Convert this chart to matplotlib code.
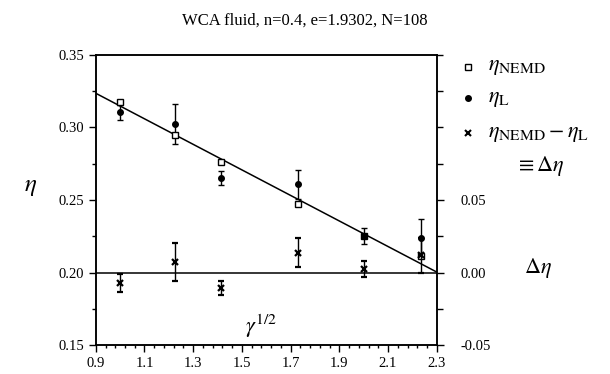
import numpy as np
import matplotlib
matplotlib.use("Agg")
import matplotlib.pyplot as plt
from matplotlib.ticker import FixedLocator, FormatStrFormatter

plt.rcParams['font.family'] = ['Liberation Serif', 'DejaVu Serif']
plt.rcParams['mathtext.fontset'] = 'stix'
plt.rcParams['axes.unicode_minus'] = False

# sqrt(gamma) values
gamma_half = [1.0, 1.2247, 1.4142, 1.7321, 2.0, 2.2361]
eta_nemd = [0.3178, 0.2948, 0.2764, 0.2472, 0.2255, 0.2114]
eta_l = [0.3105, 0.3024, 0.2650, 0.2608, 0.2252, 0.2240]
eta_l_err = [0.0050, 0.0138, 0.0050, 0.0100, 0.0057, 0.0127]
delta_eta = [-0.0072, 0.0073, -0.0106, 0.0135, 0.0023, 0.0120]
delta_err = [0.0060, 0.0133, 0.0050, 0.0100, 0.0055, 0.0120]
fit_x = [0.9, 2.3]
fit_y = [0.3236, 0.2003]

fig = plt.figure(figsize=(6.10, 3.74), dpi=100)
ax = fig.add_axes([0.157, 0.0775, 0.559, 0.7755])

ax.plot(fit_x, fit_y, color='black', lw=1.1)
ax.errorbar(gamma_half, eta_l, yerr=eta_l_err, fmt='o', color='black',
            ms=4, capsize=2.5, elinewidth=1, capthick=1)
ax.plot(gamma_half, eta_nemd, 's', mfc='white', mec='black', ms=5, mew=1)

ax.set_xlim(0.9, 2.3)
ax.set_ylim(0.15, 0.35)
ax.xaxis.set_major_locator(FixedLocator(np.arange(0.9, 2.31, 0.2)))
ax.xaxis.set_minor_locator(FixedLocator(np.arange(0.9, 2.31, 0.04)))
ax.xaxis.set_major_formatter(FormatStrFormatter('%.1f'))
ax.yaxis.set_major_locator(FixedLocator(np.arange(0.15, 0.351, 0.05)))
ax.yaxis.set_minor_locator(FixedLocator(np.arange(0.15, 0.351, 0.025)))
ax.yaxis.set_major_formatter(FormatStrFormatter('%.2f'))
ax.tick_params(which='both', direction='out', labelsize=10.5, width=1)
ax.tick_params(which='major', length=5)
ax.tick_params(which='minor', length=3)
ax.tick_params(axis='x', which='minor', length=2)

ax2 = ax.twinx()
ax2.axhline(0.0, color='black', lw=1.1)
ax2.errorbar(gamma_half, delta_eta, yerr=delta_err, fmt='x', color='black',
             ms=4, mew=1.6, capsize=2.5, elinewidth=1, capthick=1)
ax2.set_ylim(-0.05, 0.15)
ax2.yaxis.set_major_locator(FixedLocator([-0.05, 0.0, 0.05]))
ax2.yaxis.set_minor_locator(FixedLocator(np.arange(-0.05, 0.151, 0.025)))
ax2.yaxis.set_major_formatter(FormatStrFormatter('%.2f'))
ax2.tick_params(which='both', direction='out', labelsize=10.5, width=1)
ax2.tick_params(which='major', length=5, pad=12)
ax2.tick_params(which='minor', length=4)

for a in (ax, ax2):
    for s in a.spines.values():
        s.set_linewidth(1.1)

fig.text(0.5, 0.945, 'WCA fluid, n=0.4, e=1.9302, N=108', ha='center',
         va='center', fontsize=12)
fig.text(0.05, 0.5, r'$\eta$', ha='center', va='center', fontsize=18)
fig.text(0.882, 0.283, r'$\Delta\eta$', ha='center', va='center', fontsize=16)
ax.text(1.58, 0.163, r'$\gamma^{1/2}$', ha='center', va='center', fontsize=16)

# legend drawn by hand to match the layout
fig.text(0.800, 0.82, r'$\eta_{\mathrm{NEMD}}$', va='center', fontsize=16)
fig.text(0.800, 0.735, r'$\eta_{\mathrm{L}}$', va='center', fontsize=16)
fig.text(0.800, 0.64, r'$\eta_{\mathrm{NEMD}} - \eta_{\mathrm{L}}$', va='center', fontsize=16)
fig.text(0.845, 0.555, r'$\equiv \Delta\eta$', va='center', fontsize=16)
fig.lines.extend([
    plt.Line2D([0.767], [0.822], marker='s', mfc='white', mec='black', ms=4,
               transform=fig.transFigure, figure=fig),
    plt.Line2D([0.767], [0.738], marker='o', color='black', ms=4,
               transform=fig.transFigure, figure=fig),
    plt.Line2D([0.767], [0.644], marker='x', color='black', ms=4, mew=1.5,
               transform=fig.transFigure, figure=fig),
])

fig.savefig('out.png', dpi=100)
